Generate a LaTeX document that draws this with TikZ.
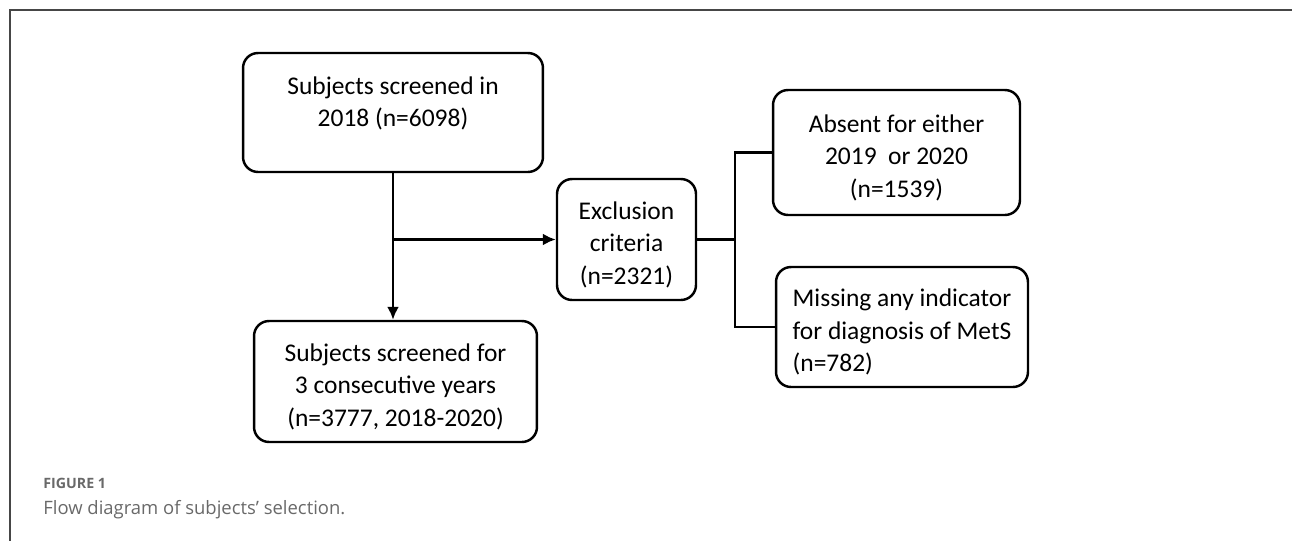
\documentclass[tikz,border=0pt]{standalone}
\usepackage{fontspec}
\setmainfont{Carlito}
\newfontfamily\capfont{Open Sans}
\usepackage{xcolor}
\definecolor{framegray}{RGB}{70,70,70}
\definecolor{capgray}{RGB}{105,105,105}
\usetikzlibrary{positioning,arrows.meta}
\newcommand\topgap{\rule{0pt}{16pt}}
\tikzset{
  flowbox/.style={draw,line width=1.4pt,rounded corners=0.3cm,align=center,
    inner sep=0pt,font=\fontsize{14.5pt}{18.5pt}\selectfont},
  flowline/.style={line width=1.4pt},
}
\begin{document}
\begin{tikzpicture}[x=0.02cm,y=-0.02cm]
                    \useasboundingbox (0,0) rectangle (1292,541);
                    \draw[framegray,line width=0.9pt] (10,541) -- (10,10) -- (1292,10);

                    \node[flowbox,minimum width=6cm,minimum height=2.38cm] (screened) at (393,112.5)
                        {\topgap Subjects screened in\\2018 (n=6098)\\\mbox{}};
                    \node[flowbox,minimum width=5.66cm,minimum height=2.42cm] (consecutive) at (395.5,381.5)
                        {\topgap Subjects screened for\\3 consecutive years\\(n=3777, 2018-2020)};
                    \node[flowbox,minimum width=2.78cm,minimum height=2.42cm] (exclusion) at (626.5,239.5)
                        {\topgap Exclusion\\criteria\\(n=2321)};
                    \node[flowbox,minimum width=4.94cm,minimum height=2.5cm] (absent) at (896.5,152.5)
                        {\topgap Absent for either\\2019\ \ or 2020\\(n=1539)};
                    \node[flowbox,align=left,minimum width=5.04cm,minimum height=2.4cm] (missing) at (902,327)
                        {\topgap Missing any indicator\\for diagnosis of MetS\\(n=782)};

                    \coordinate (split) at (393,239.5);
                    \coordinate (fork) at (735,239.5);
                    \draw[flowline,>={Latex[length=2.6mm,width=2.4mm]},->] (screened.south) -- (screened.south |- consecutive.north);
                    \draw[flowline,>={Latex[length=2.6mm,width=2.4mm]},->] (split) -- (exclusion.west);
                    \draw[flowline] (exclusion.east) -- (fork);
                    \draw[flowline] (absent.west) -- (absent.west -| fork) -- (missing.west -| fork) -- (missing.west);

                    \node[anchor=base west,inner sep=0pt,capgray,font=\capfont\fontsize{8.1pt}{9pt}\selectfont\bfseries] (figno) at (43,488) {FIGURE 1};
                    \node[anchor=base west,inner sep=0pt,capgray,font=\capfont\fontsize{10.5pt}{12pt}\selectfont] (caption) at (43,514) {Flow diagram of subjects’ selection.};
\end{tikzpicture}
\end{document}
